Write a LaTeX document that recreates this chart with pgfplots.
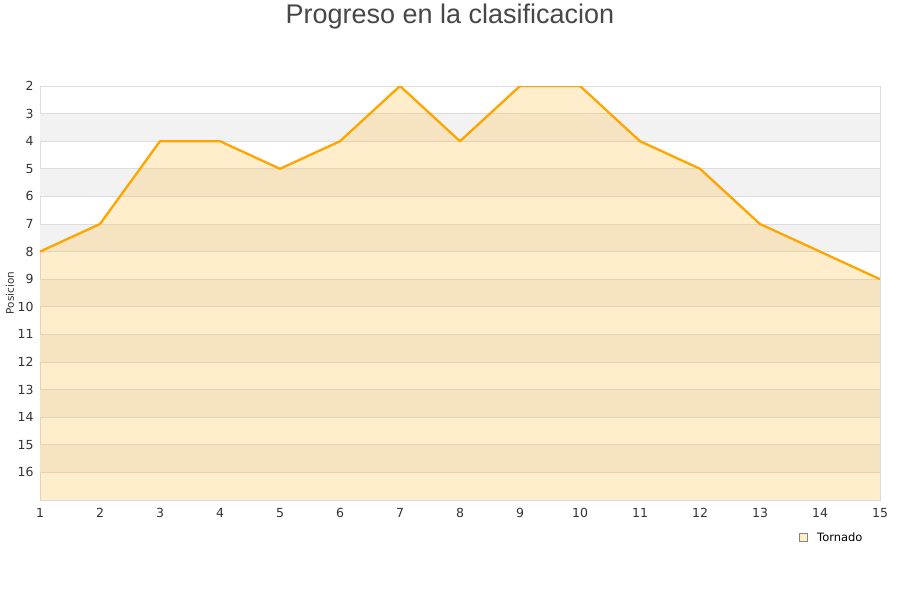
\documentclass[border=0pt]{standalone}
\usepackage{pgfplots}
\pgfplotsset{compat=1.18}
\usepackage{fontspec}
\setmainfont{DejaVu Sans}
\newfontfamily\titlefont{Liberation Sans}
\definecolor{lineC}{HTML}{FFA500}
\definecolor{areaC}{HTML}{FFB223}
\definecolor{bandC}{HTML}{F2F2F2}
\definecolor{gridC}{HTML}{DCDCDC}
\definecolor{txtC}{HTML}{333333}
\begin{document}
\begin{tikzpicture}[x=1pt,y=1pt]
\useasboundingbox (0,0) rectangle (900,600);
\node[font=\titlefont\fontsize{27}{30}\selectfont, text=txtC!90] at (450,583) {Progreso en la clasificacion};
\begin{axis}[
  at={(40pt,100pt)}, anchor=south west,
  scale only axis, width=840pt, height=414pt,
  xmin=1, xmax=15, ymin=2, ymax=17, y dir=reverse,
  xtick={1,...,15}, ytick={2,...,16},
  major tick length=0pt,
  axis line style={gridC, line width=0.8pt},
  tick label style={font=\fontsize{12.5}{14}\selectfont, text=txtC},
  /pgf/number format/assume math mode=true,
  ylabel={Posicion}, ylabel style={font=\fontsize{10.5}{12}\selectfont, text=txtC, at={(-30pt,0.5)}, anchor=center},
  xticklabel style={yshift=-5pt},
  yticklabel style={xshift=-3pt},
  clip=true,
]
  % alternating horizontal bands
  \fill[bandC] (axis cs:1,3) rectangle (axis cs:15,4);
  \fill[bandC] (axis cs:1,5) rectangle (axis cs:15,6);
  \fill[bandC] (axis cs:1,7) rectangle (axis cs:15,8);
  \fill[bandC] (axis cs:1,9) rectangle (axis cs:15,10);
  \fill[bandC] (axis cs:1,11) rectangle (axis cs:15,12);
  \fill[bandC] (axis cs:1,13) rectangle (axis cs:15,14);
  \fill[bandC] (axis cs:1,15) rectangle (axis cs:15,16);
  % horizontal grid lines
  \pgfplotsinvokeforeach{3,...,16}{
    \draw[gridC, line width=0.8pt] (axis cs:1,#1) -- (axis cs:15,#1);
  }
  % shaded area below the line
  \addplot[draw=none, fill=areaC, fill opacity=0.23] coordinates {
    (1,8) (2,7) (3,4) (4,4) (5,5) (6,4) (7,2) (8,4)
    (9,2) (10,2) (11,4) (12,5) (13,7) (14,8) (15,9) (15,17) (1,17)
  } -- cycle;
  % position line
  \addplot[lineC, line width=2.3pt, line join=round] coordinates {
    (1,8) (2,7) (3,4) (4,4) (5,5) (6,4) (7,2) (8,4)
    (9,2) (10,2) (11,4) (12,5) (13,7) (14,8) (15,9)
  };
\end{axis}
% legend
\draw[gridC!60!black, fill=areaC!25] (799,59) rectangle (807,67);
\node[anchor=west, font=\fontsize{11.5}{13}\selectfont, text=black, inner sep=0pt] at (817,63) {Tornado};
\end{tikzpicture}
\end{document}
